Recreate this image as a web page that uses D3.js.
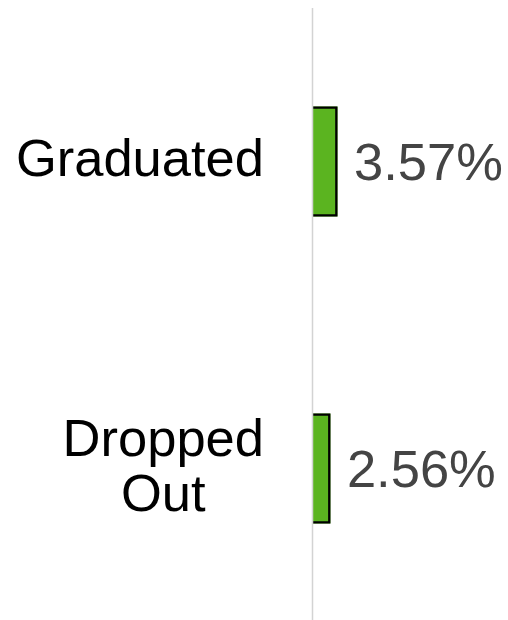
<!DOCTYPE html>
<html>
<head>
<meta charset="utf-8">
<script src="https://cdn.jsdelivr.net/npm/d3@7"></script>
<style>
  html, body { margin: 0; padding: 0; background: #fff; }
  svg { display: block; }
  text { font-family: "Liberation Sans", Arial, sans-serif; }
</style>
</head>
<body>
<svg id="chart" width="508" height="620"></svg>
<script>
const categories = [["Graduated"], ["Dropped", "Out"]];
const values = [3.57, 2.56];
const valueLabels = ["3.57%", "2.56%"];

const svg = d3.select("#chart");
const W = 508, H = 620;
const x0 = 312.5;

const x = d3.scaleLinear().domain([0, 10]).range([x0, x0 + 70]);
const y = d3.scaleBand()
  .domain(d3.range(categories.length))
  .range([8, 622])
  .paddingInner(0.6417)
  .paddingOuter(0.3208);

// bars
const sw = 2.3;
values.forEach((v, i) => {
  const top = y(i), bh = y.bandwidth();
  const xr = x(v);
  svg.append("rect")
    .attr("x", x0).attr("y", top)
    .attr("width", xr - x0).attr("height", bh)
    .attr("fill", "#5bb420");
  svg.append("path")
    .attr("d", `M${x0},${top + sw/2} H${xr - sw/2} V${top + bh - sw/2} H${x0}`)
    .attr("fill", "none")
    .attr("stroke", "#000")
    .attr("stroke-width", sw);
});

// axis baseline
svg.append("line")
  .attr("x1", x0).attr("x2", x0)
  .attr("y1", 8).attr("y2", H)
  .attr("stroke", "#d3d3d3")
  .attr("stroke-width", 1.5);

// value labels
values.forEach((v, i) => {
  svg.append("text")
    .attr("x", x(v) + 16.5)
    .attr("y", y(i) + y.bandwidth() / 2)
    .attr("dy", "0.36em")
    .attr("font-size", 52.5)
    .attr("fill", "#444444")
    .text(valueLabels[i]);
});

// category labels: block right-aligned, lines centered within block
const rightEdge = 264;
const lineH = 55.5;
categories.forEach((lines, i) => {
  const g = svg.append("g");
  const cy = y(i) + y.bandwidth() / 2 - 4;
  const texts = lines.map((ln, k) => g.append("text")
    .attr("font-size", 52.5)
    .attr("fill", "#000")
    .attr("text-anchor", "middle")
    .attr("y", cy + (k - (lines.length - 1) / 2) * lineH)
    .attr("dy", "0.36em")
    .text(ln));
  const maxW = d3.max(texts, t => t.node().getComputedTextLength());
  texts.forEach(t => t.attr("x", rightEdge - maxW / 2));
});
</script>
</body>
</html>
